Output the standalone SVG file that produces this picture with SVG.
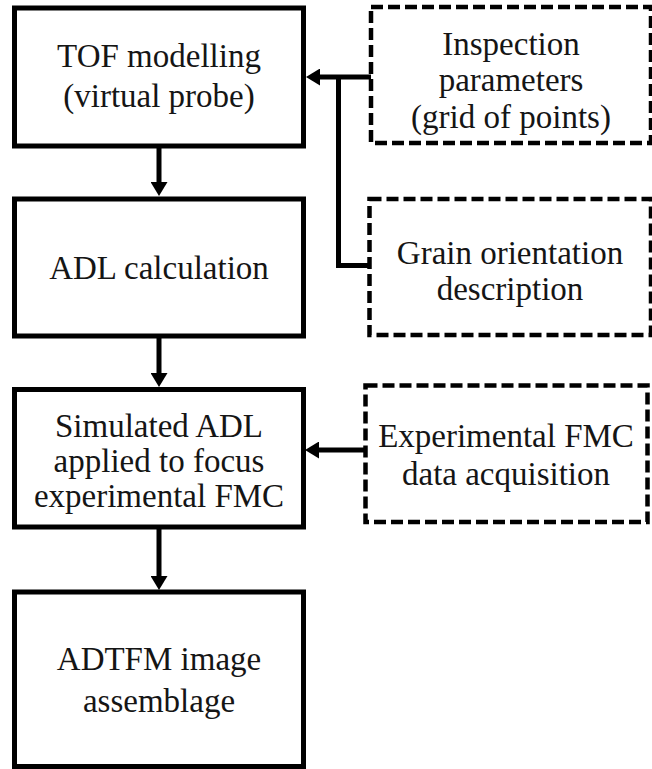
<svg xmlns="http://www.w3.org/2000/svg" width="652" height="769" viewBox="0 0 652 769">
  <style>
    .proc { fill: #ffffff; stroke: #000000; stroke-width: 5; }
    .input { fill: #ffffff; stroke: #000000; stroke-width: 4.5; stroke-dasharray: 12 5; }
    text { font-family: "Liberation Serif", "Times New Roman", serif; font-size: 33px; fill: #151515; text-anchor: middle; }
    .wire { fill: none; stroke: #000000; stroke-width: 5; }
  </style>
  <defs>
    <marker id="head" markerUnits="userSpaceOnUse" markerWidth="14" markerHeight="17" viewBox="0 0 14 17" refX="0" refY="8.5" orient="auto">
      <path d="M0,0 L14,8.5 L0,17 Z" fill="#000000"/>
    </marker>
  </defs>
  <rect width="652" height="769" fill="#ffffff"/>

  <!-- process steps -->
  <g id="tof-modelling">
    <rect class="proc" x="14.5" y="8" width="289" height="138"/>
    <text x="159" y="67">TOF modelling</text>
    <text x="159" y="107">(virtual probe)</text>
  </g>
  <g id="adl-calculation">
    <rect class="proc" x="14.5" y="199" width="289" height="137"/>
    <text x="159" y="279">ADL calculation</text>
  </g>
  <g id="simulated-adl">
    <rect class="proc" x="14.5" y="389.5" width="289" height="137.5"/>
    <text x="159" y="437">Simulated ADL</text>
    <text x="159" y="472">applied to focus</text>
    <text x="159" y="507">experimental FMC</text>
  </g>
  <g id="adtfm-image">
    <rect class="proc" x="14.5" y="592" width="289" height="174.5"/>
    <text x="159" y="670">ADTFM image</text>
    <text x="159" y="712">assemblage</text>
  </g>

  <!-- inputs -->
  <g id="inspection-parameters">
    <rect class="input" x="371" y="7" width="280" height="136"/>
    <text x="511" y="55">Inspection</text>
    <text x="511" y="91">parameters</text>
    <text x="511" y="128">(grid of points)</text>
  </g>
  <g id="grain-orientation">
    <rect class="input" x="369.5" y="199" width="281.5" height="136"/>
    <text x="510" y="264">Grain orientation</text>
    <text x="510" y="300">description</text>
  </g>
  <g id="experimental-fmc">
    <rect class="input" x="365.5" y="385.5" width="282" height="136.5"/>
    <text x="506" y="447">Experimental FMC</text>
    <text x="506" y="485">data acquisition</text>
  </g>

  <!-- connectors -->
  <g id="connectors">
    <path class="wire" d="M159,146 V182" marker-end="url(#head)"/>
    <path class="wire" d="M159,336 V373" marker-end="url(#head)"/>
    <path class="wire" d="M159,527 V576" marker-end="url(#head)"/>
    <path class="wire" d="M371,77 H320" marker-end="url(#head)"/>
    <path class="wire" d="M338.5,77 V265.5 H369.5"/>
    <path class="wire" d="M365.5,450 H319" marker-end="url(#head)"/>
  </g>
</svg>
